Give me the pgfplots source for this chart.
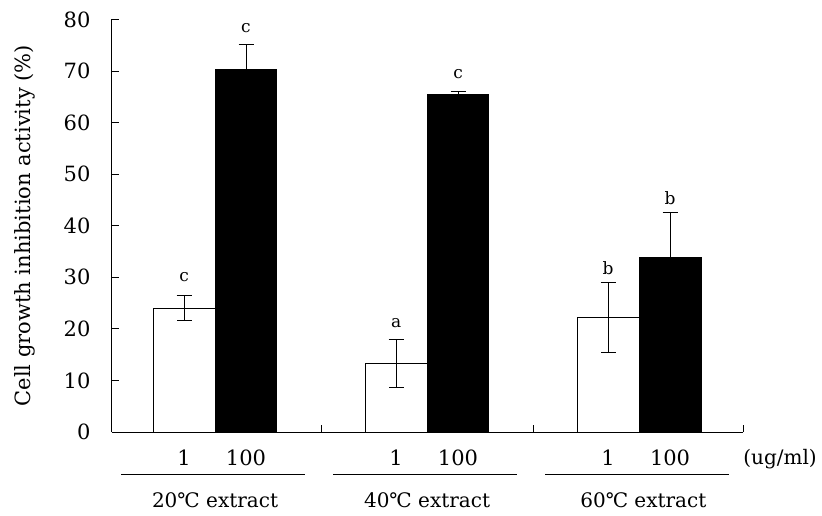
\documentclass[border=0pt]{standalone}
\usepackage{fontspec}
\setmainfont{DejaVu Serif}
\usepackage{pgfplots}
\pgfplotsset{compat=1.18}
\begin{document}
\begin{tikzpicture}
\useasboundingbox (-112pt,-83pt) rectangle (710pt,432pt);
\begin{axis}[
  at={(0,0)}, anchor=south west,
  scale only axis, width=631pt, height=412.5pt,
  xmin=-0.486, xmax=2.49, ymin=0, ymax=80,
  axis x line*=bottom, axis y line*=left,
  axis line style={-, line width=1pt, black},
  tick align=inside, major tick length=7pt,
  tick style={black, line width=1pt},
  ytick={0,10,...,80},
  xtick={0.5,1.5,2.49}, xticklabels={},
  extra x ticks={-0.146,0.146,0.854,1.146,1.854,2.146},
  extra x tick labels={1,100,1,100,1,100},
  extra x tick style={major tick length=0pt, xticklabel style={yshift=-14pt}},
  /pgf/number format/assume math mode=true,
  ticklabel style={font=\fontsize{21}{25}\selectfont},
  yticklabel style={xshift=-18pt},
  ylabel={Cell growth inhibition activity (\%)},
  ylabel style={font=\fontsize{21}{25}\selectfont, at={(axis description cs:-0.1379,0.5)}, anchor=center},
  clip=false,
]
\addplot[ybar, bar width=0.292, bar shift=0pt, fill=white, draw=black, line width=1pt,
  error bars/.cd, y dir=both, y explicit,
  error bar style={line width=1pt, black},
  error mark options={line width=1pt, black, mark size=7.5pt, rotate=90}]
table[x=x, y=y, y error=e] {
x y e
-0.146 24.0 2.4
0.854 13.3 4.6
1.854 22.2 6.7
};
\addplot[ybar, bar width=0.292, bar shift=0pt, fill=black, draw=black, line width=1pt,
  error bars/.cd, y dir=plus, y explicit,
  error bar style={line width=1pt, black},
  error mark options={line width=1pt, black, mark size=7.5pt, rotate=90}]
table[x=x, y=y, y error=e] {
x y e
0.146 70.3 4.9
1.146 65.4 0.7
2.146 33.8 8.7
};
\addplot[only marks, mark=none, nodes near coords, point meta=explicit symbolic,
  nodes near coords style={anchor=center, font=\fontsize{17}{20}\selectfont}]
table[x=x, y=y, meta=l] {
x y l
-0.146 30.1 c
0.146 78.3 c
0.854 21.1 a
1.146 69.4 c
1.854 31.8 b
2.146 45.4 b
};
\draw[line width=1pt] ([yshift=-42pt]axis cs:-0.443,0) -- ([yshift=-42pt]axis cs:0.425,0);
\draw[line width=1pt] ([yshift=-42pt]axis cs:0.557,0) -- ([yshift=-42pt]axis cs:1.425,0);
\draw[line width=1pt] ([yshift=-42pt]axis cs:1.557,0) -- ([yshift=-42pt]axis cs:2.425,0);
\node[font=\fontsize{20}{24}\selectfont] at ([yshift=-68pt]axis cs:0,0) {20℃ extract};
\node[font=\fontsize{20}{24}\selectfont] at ([yshift=-68pt]axis cs:1,0) {40℃ extract};
\node[font=\fontsize{20}{24}\selectfont] at ([yshift=-68pt]axis cs:2.02,0) {60℃ extract};
\node[font=\fontsize{20}{24}\selectfont] at ([yshift=-27pt]axis cs:2.665,0) {(ug/ml)};
\end{axis}
\end{tikzpicture}
\end{document}
